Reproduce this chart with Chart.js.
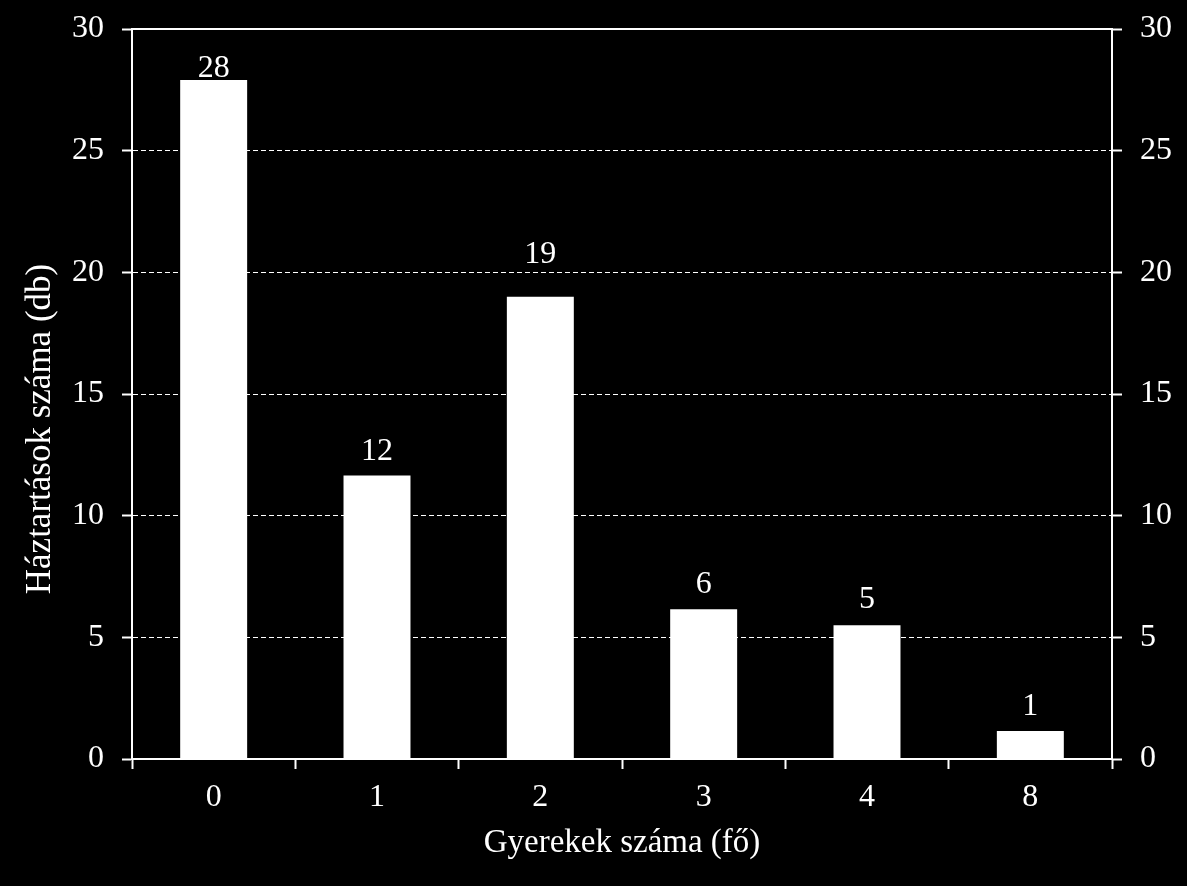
<!DOCTYPE html>
<html>
<head>
<meta charset="utf-8">
<script src="https://cdn.jsdelivr.net/npm/chart.js@4"></script>
<style>
  html, body { margin: 0; padding: 0; background: #000; }
  canvas { display: block; }
</style>
</head>
<body>
<canvas id="chart" width="1187" height="886"></canvas>
<script>
// Data
const categories = ['0', '1', '2', '3', '4', '8'];
const households = [27.9, 11.65, 19.0, 6.15, 5.5, 1.15];
const valueLabels = ['28', '12', '19', '6', '5', '1'];

// pixel gap between bar top and its label baseline (style only)
const labelGaps = [3, 16, 34, 16, 17, 16];

const FONT = "'Liberation Serif', 'Times New Roman', serif";

// Solid top frame line at the max of the value axis
const topLinePlugin = {
  id: 'topLine',
  afterDraw: (chart) => {
    const { ctx, chartArea } = chart;
    ctx.save();
    ctx.strokeStyle = '#fff';
    ctx.lineWidth = 2;
    ctx.beginPath();
    ctx.moveTo(chartArea.left, chartArea.top);
    ctx.lineTo(chartArea.right, chartArea.top);
    ctx.stroke();
    ctx.restore();
  },
};

// Value labels above the bars
const barLabelsPlugin = {
  id: 'barLabels',
  afterDatasetsDraw: (chart) => {
    const { ctx } = chart;
    const meta = chart.getDatasetMeta(0);
    meta.data.forEach((bar, i) => {
      ctx.save();
      ctx.fillStyle = '#fff';
      ctx.font = `32px ${FONT}`;
      ctx.textAlign = 'center';
      ctx.textBaseline = 'alphabetic';
      ctx.fillText(valueLabels[i], bar.x, bar.y - labelGaps[i]);
      ctx.restore();
    });
  },
};

const tickFont = { family: FONT, size: 32 };

// fixed box sizes so the plot area lands where the reference has it
const fixWidth = (w) => (scale) => {
  scale.width = w;
  scale.paddingTop = 0;
  scale.paddingBottom = 0;
};

// the y title sits a little below the middle in the reference; the
// trailing no-break spaces push the visible words down the axis
const yTitle = 'Háztartások száma (db)' + '\u00A0'.repeat(8);

new Chart(document.getElementById('chart'), {
  type: 'bar',
  data: {
    labels: categories,
    datasets: [
      {
        data: households,
        backgroundColor: '#fff',
        borderWidth: 0,
        categoryPercentage: 1,
        barPercentage: 0.41,
      },
    ],
  },
  options: {
    responsive: false,
    animation: false,
    devicePixelRatio: 1,
    layout: { padding: { top: 29, left: 0, right: 0, bottom: 0 } },
    plugins: {
      legend: { display: false },
      tooltip: { enabled: false },
    },
    scales: {
      x: {
        afterFit: (scale) => {
          scale.height = 127;
          scale.paddingLeft = 0;
          scale.paddingRight = 0;
        },
        grid: {
          offset: true,
          drawOnChartArea: false,
          tickLength: 10,
          tickWidth: 2,
          tickColor: '#fff',
        },
        border: { display: true, color: '#fff', width: 2 },
        ticks: { color: '#fff', font: tickFont, padding: 9 },
        title: {
          display: true,
          text: 'Gyerekek száma (fő)',
          color: '#fff',
          font: { family: FONT, size: 33 },
          padding: { top: 0, bottom: 23 },
        },
      },
      y: {
        position: 'left',
        min: 0,
        max: 30,
        afterFit: fixWidth(132),
        grid: {
          color: '#fff',
          lineWidth: 1,
          tickLength: 10,
          tickWidth: 2,
          tickColor: '#fff',
          tickBorderDash: [],
        },
        border: { display: true, color: '#fff', width: 2, dash: [5, 3] },
        ticks: { stepSize: 5, color: '#fff', font: tickFont, padding: 18 },
        title: {
          display: true,
          text: yTitle,
          color: '#fff',
          font: { family: FONT, size: 35 },
          padding: { top: 20, bottom: 0 },
        },
      },
      y2: {
        position: 'right',
        min: 0,
        max: 30,
        afterFit: fixWidth(75),
        grid: {
          drawOnChartArea: false,
          tickLength: 10,
          tickWidth: 2,
          tickColor: '#fff',
        },
        border: { display: true, color: '#fff', width: 2 },
        ticks: { stepSize: 5, color: '#fff', font: tickFont, padding: 18 },
      },
    },
  },
  plugins: [topLinePlugin, barLabelsPlugin],
});
</script>
</body>
</html>
